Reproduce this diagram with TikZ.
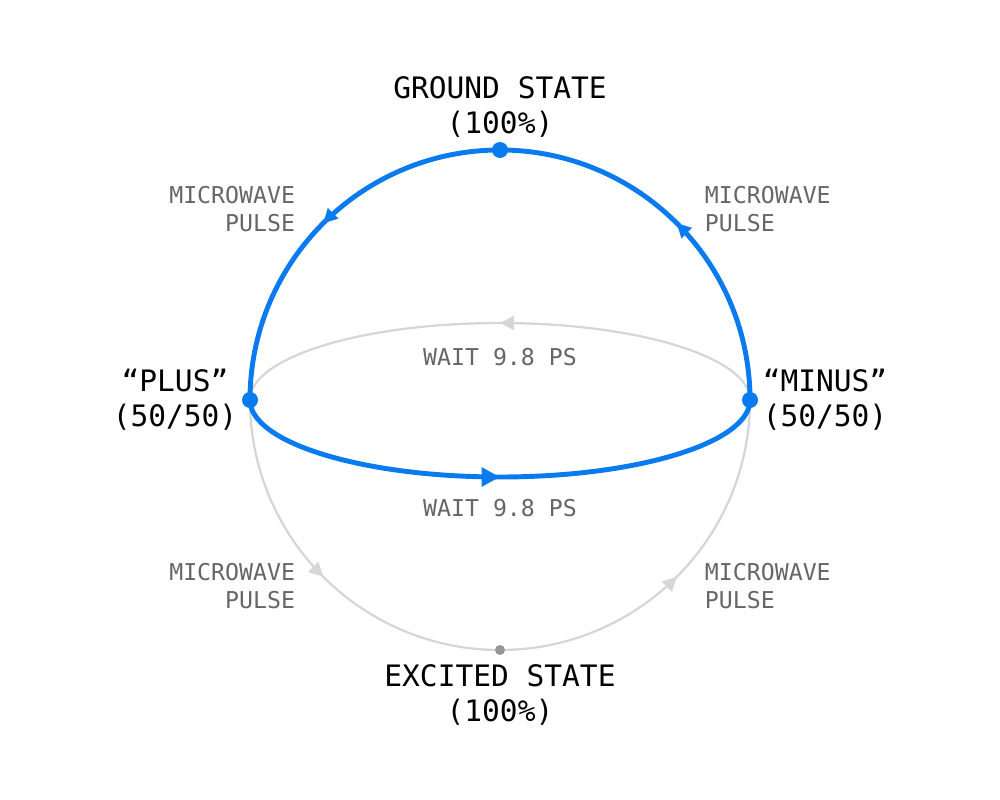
\documentclass[tikz,border=0pt]{standalone}
\usepackage{fontspec}
\setmainfont{DejaVu Sans Mono}
\usetikzlibrary{decorations.markings,arrows.meta}
\definecolor{qblue}{HTML}{0A7BEF}
\definecolor{qgray}{HTML}{D6D6D6}
\definecolor{qtext}{HTML}{666666}
\tikzset{
  bl/.style={draw=qblue,line width=3.5pt},
  gr/.style={draw=qgray,line width=1.6pt},
  mk/.style={postaction={decorate},decoration={markings,mark=at position #1 with {\arrow{Triangle[length=10pt,width=10pt]}}}},
  mkb/.style={postaction={decorate},decoration={markings,mark=at position #1 with {\arrow{Triangle[length=13pt,width=13pt]}}}},
  lab/.style={text=qtext,font=\fontsize{16.5}{19.8}\selectfont,align=center},
  big/.style={text=black,font=\fontsize{21}{24.8}\selectfont,align=center},
}
\begin{document}
\begin{tikzpicture}[x=0.025cm,y=-0.025cm]
\useasboundingbox (0,0) rectangle (1000,800);
\coordinate (P) at (250,400);
\coordinate (M) at (750,400);
\coordinate (G) at (500,150);
\coordinate (E) at (500,650);
% gray lower semicircle
\draw[gr,mk=0.5] (P) arc[start angle=180,end angle=90,radius=250];
\draw[gr,mk=0.5] (E) arc[start angle=90,end angle=0,radius=250];
% gray upper half ellipse
\draw[gr,mk=0.5] (M) arc[start angle=0,end angle=-180,x radius=250,y radius=77];
% blue upper semicircle
\draw[bl,mk=0.5] (M) arc[start angle=0,end angle=-90,radius=250];
\draw[bl,mk=0.5] (G) arc[start angle=-90,end angle=-180,radius=250];
% blue lower half ellipse
\draw[bl,mkb=0.5] (P) arc[start angle=180,end angle=0,x radius=250,y radius=77];
\fill[qblue] (P) circle[radius=8] (M) circle[radius=8] (G) circle[radius=8];
\fill[qgray!70!black] (E) circle[radius=5];
% labels
\node[big] (lg) at (500,107) {GROUND STATE\\(100\%)};
\node[big] (le) at (500,695) {EXCITED STATE\\(100\%)};
\node[big] (lp) at (175,400) {“PLUS”\\(50/50)};
\node[big] (lm) at (825,400) {“MINUS”\\(50/50)};
\node[lab,anchor=east,align=right] (m1) at (300,209) {MICROWAVE\\PULSE};
\node[lab,anchor=west,align=left] (m2) at (700,209) {MICROWAVE\\PULSE};
\node[lab,anchor=east,align=right] (m3) at (300,586) {MICROWAVE\\PULSE};
\node[lab,anchor=west,align=left] (m4) at (700,586) {MICROWAVE\\PULSE};
\node[lab] (w1) at (500,357) {WAIT 9.8 PS};
\node[lab] (w2) at (500,508) {WAIT 9.8 PS};
\end{tikzpicture}
\end{document}
